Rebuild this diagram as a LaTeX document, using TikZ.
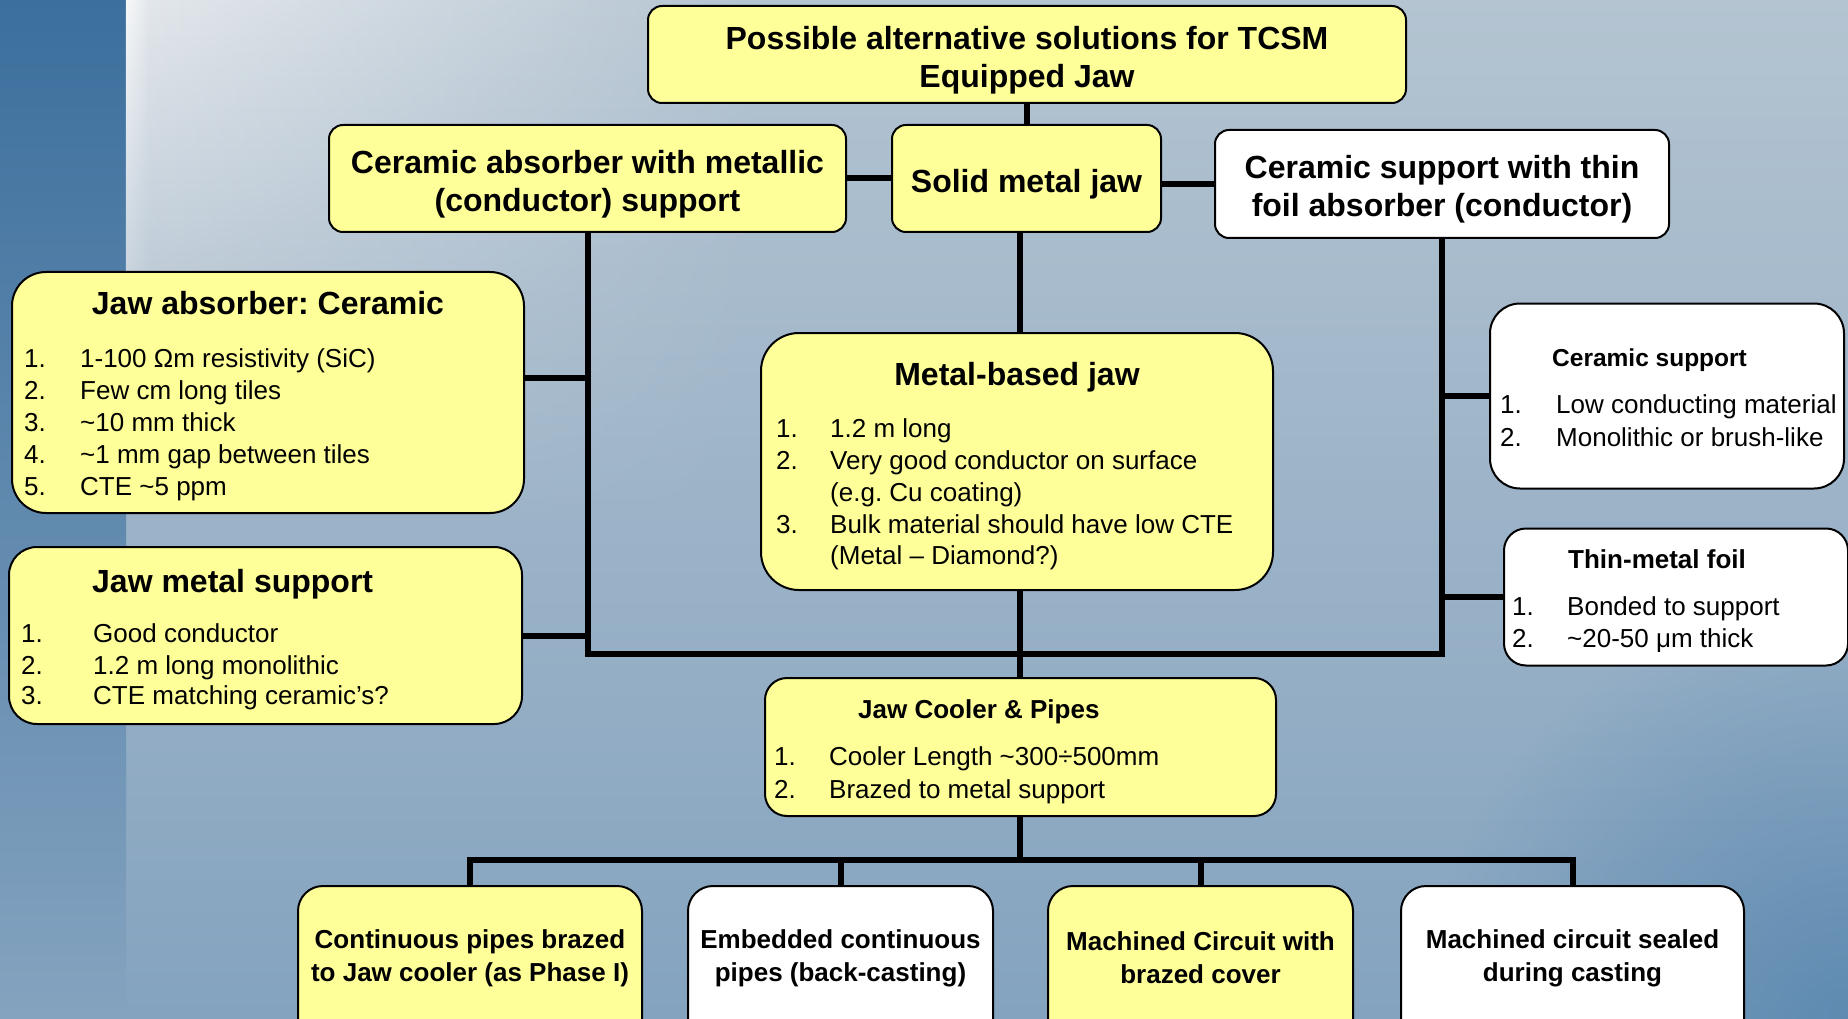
\documentclass[tikz,border=0pt]{standalone}
\usepackage{fontspec}
\setmainfont{Liberation Sans}
\usetikzlibrary{fadings}
\definecolor{boxy}{HTML}{FFFF99}
\definecolor{bgtop}{HTML}{B4C4D1}
\definecolor{bgmid}{HTML}{A2B6C8}
\definecolor{bgbot}{HTML}{84A3BF}
\definecolor{stripT}{HTML}{3C6F9D}
\definecolor{stripM}{HTML}{6B94B9}
\definecolor{stripB}{HTML}{84A3BF}
\definecolor{glowT}{HTML}{E4E8EC}
\definecolor{cornerblue}{HTML}{4A7DAA}
\tikzfading[name=fadeR, left color=transparent!0, right color=transparent!100]
\tikzfading[name=fadeRad, inner color=transparent!35, outer color=transparent!100]
\newcommand\Fbig{\fontsize{32}{38}\selectfont\bfseries}
\newcommand\Fmid{\fontsize{26}{33}\selectfont\bfseries}
\newcommand\Fsmt{\fontsize{26}{30}\selectfont\bfseries}
\newcommand\Fcst{\fontsize{24.5}{30}\selectfont\bfseries}
\newcommand\Fitm{\fontsize{26}{32}\selectfont}
\newcommand\lline[6]{\node[itm, anchor=base west] (#1) at (#2,#3) {\makebox[#4pt][l]{#5}#6};}
\frenchspacing
\begin{document}
\frenchspacing
\begin{tikzpicture}[x=1pt,y=-1pt,
  box/.style={draw=black, line width=2pt, rounded corners=#1, inner sep=0pt, align=center},
  box/.default=14pt,
  ybox/.style={box=#1, fill=boxy},
  ybox/.default=14pt,
  wbox/.style={box=#1, fill=white},
  wbox/.default=14pt,
  conn/.style={line width=6pt},
  itm/.style={inner sep=0pt, font=\Fitm},
  ttl/.style={inner sep=0pt, align=center},
]
\useasboundingbox (0,0) rectangle (1848,1019);
\begin{scope}
\clip (0,0) rectangle (1848,1019);
% background
\shade[top color=bgtop, middle color=bgmid, bottom color=bgbot] (0,0) rectangle (1848,1019);
\fill[cornerblue, path fading=fadeRad] (1848,1019) circle (420);
\shade[top color=stripT, middle color=stripM, bottom color=stripB] (0,0) rectangle (126,1019);
\shade[top color=glowT, bottom color=bgmid, path fading=fadeR] (126,0) rectangle (760,509.5);
\shade[top color=white, bottom color=bgmid, path fading=fadeR, opacity=0.7] (126,0) rectangle (150,509.5);

% level 1 and 2
\node[ybox, minimum width=758pt, minimum height=97pt] (top) at (1027,54.5) {};
\node[ybox, minimum width=517pt, minimum height=107pt] (cer) at (587.5,178.5) {};
\node[ybox, minimum width=269pt, minimum height=107pt] (solid) at (1026.5,178.5) {};
\node[wbox, minimum width=454pt, minimum height=108pt] (csup) at (1442,184) {};
\node[ttl, font=\Fbig] (topT) at ([yshift=-6pt]top.center) {Possible alternative solutions for TCSM\\Equipped Jaw};
\node[ttl, font=\Fbig] (cerT) at ([yshift=-6pt]cer.center) {Ceramic absorber with metallic\\(conductor) support};
\node[ttl, font=\Fbig] (solidT) at ([yshift=-6pt]solid.center) {Solid metal jaw};
\node[ttl, font=\Fbig] (csupT) at ([yshift=-5pt]csup.center) {Ceramic support with thin\\foil absorber (conductor)};

% list boxes
\node[ybox=34pt, minimum width=512pt, minimum height=241pt] (jab) at (268,392.5) {};
\node[ybox=28pt, minimum width=513pt, minimum height=177pt] (jms) at (265.5,635.5) {};
\node[ybox=38pt, minimum width=512pt, minimum height=257pt] (mbj) at (1017,461.5) {};
\node[ybox=22pt, minimum width=511pt, minimum height=138pt] (cool) at (1020.5,747) {};
\node[wbox=30pt, minimum width=354pt, minimum height=185pt] (cs) at (1667,396) {};
\node[wbox=22pt, minimum width=344pt, minimum height=137pt] (tmf) at (1676,597) {};

% bottom boxes
\node[ybox=25pt, minimum width=344pt, minimum height=158pt] (b1) at (470,965) {};
\node[wbox=25pt, minimum width=305pt, minimum height=158pt] (b2) at (840.5,965) {};
\node[ybox=25pt, minimum width=305pt, minimum height=158pt] (b3) at (1200.5,965) {};
\node[wbox=25pt, minimum width=343pt, minimum height=158pt] (b4) at (1572.5,965) {};
\node[ttl, font=\Fmid] (b1t) at (470,958) {Continuous pipes brazed\\to Jaw cooler (as Phase I)};
\node[ttl, font=\Fmid] (b2t) at (840.5,958) {Embedded continuous\\pipes (back-casting)};
\node[ttl, font=\Fmid] (b3t) at (1200.5,958) {Machined Circuit with\\brazed cover};
\node[ttl, font=\Fmid] (b4t) at (1572.5,958) {Machined circuit sealed\\during casting};

% list texts
\node[ttl, font=\Fbig, anchor=base] (jabT) at (268,314) {Jaw absorber: Ceramic};
\lline{jab1}{24}{367.5}{56}{1.}{1-100 Ωm resistivity (SiC)}
\lline{jab2}{24}{399.5}{56}{2.}{Few cm long tiles}
\lline{jab3}{24}{431.5}{56}{3.}{\textasciitilde10 mm thick}
\lline{jab4}{24}{463.5}{56}{4.}{\textasciitilde1 mm gap between tiles}
\lline{jab5}{24}{495.5}{56}{5.}{CTE \textasciitilde5 ppm}

\node[ttl, font=\Fbig, anchor=base west] (jmsT) at (92,592.5) {Jaw metal support};
\lline{jms1}{21}{642.5}{72}{1.}{Good conductor}
\lline{jms2}{21}{674.5}{72}{2.}{1.2 m long monolithic}
\lline{jms3}{21}{704.5}{72}{3.}{CTE matching ceramic’s?}

\node[ttl, font=\Fbig, anchor=base] (mbjT) at (1017,385) {Metal-based jaw};
\lline{mbj1}{776}{437.5}{54}{1.}{1.2 m long}
\lline{mbj2}{776}{469}{54}{2.}{Very good conductor on surface}
\lline{mbj2b}{776}{501}{54}{}{(e.g. Cu coating)}
\lline{mbj3}{776}{533}{54}{3.}{Bulk material should have low CTE}
\lline{mbj3b}{776}{564.5}{54}{}{(Metal – Diamond?)}

\node[ttl, font=\Fsmt, anchor=base west] (coolT) at (858,718) {Jaw Cooler \& Pipes};
\lline{cool1}{774}{765}{55}{1.}{Cooler Length \textasciitilde300÷500mm}
\lline{cool2}{774}{798}{55}{2.}{Brazed to metal support}

\node[ttl, font=\Fcst, anchor=base west] (csT) at (1552,366) {Ceramic support};
\lline{cs1}{1500}{413}{56}{1.}{Low conducting material}
\lline{cs2}{1500}{446}{56}{2.}{Monolithic or brush-like}

\node[ttl, font=\Fsmt, anchor=base west] (tmfT) at (1568,568) {Thin-metal foil};
\lline{tmf1}{1512}{615}{55}{1.}{Bonded to support}
\lline{tmf2}{1512}{647}{55}{2.}{\textasciitilde20-50 μm thick}

% connectors
\coordinate (bus) at (1020,654);
\coordinate (bus2) at (1020,860);
\coordinate (jabJ) at ([yshift=14.5pt]jab.east);
\draw[conn] (top.south) -- (top.south |- solid.north);
\draw[conn] (cer.east) -- (solid.west);
\draw[conn] (solid.east |- csup.west) -- (csup.west);
\draw[conn] (solid.south -| bus) -- (mbj.north -| bus);
\draw[conn] (cer.south) |- (bus) -| (csup.south);
\draw[conn] (jabJ) -- (cer.south |- jabJ);
\draw[conn] (jms.east) -- (cer.south |- jms.east);
\draw[conn] (cs.west) -- (csup.south |- cs.west);
\draw[conn] (tmf.west) -- (csup.south |- tmf.west);
\draw[conn] (mbj.south -| bus) -- (cool.north -| bus);
\draw[conn] (cool.south -| bus2) -- (bus2);
\draw[conn] (b1.north) |- (bus2) -| (b4.north);
\draw[conn] (b2.north) -- (b2.north |- bus2);
\draw[conn] (b3.north) -- (b3.north |- bus2);
\end{scope}
\end{tikzpicture}
\end{document}
